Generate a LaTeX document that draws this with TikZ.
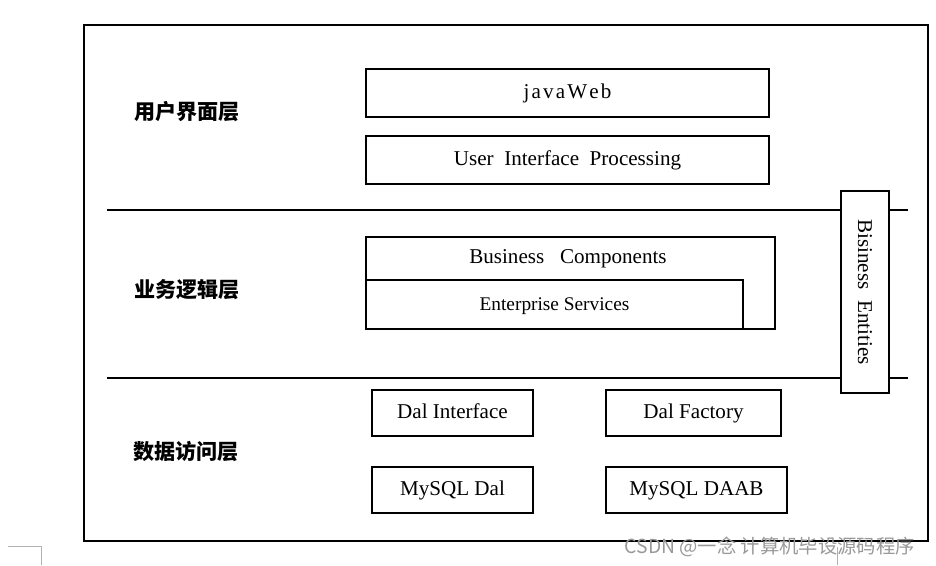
\documentclass[tikz,border=0pt]{standalone}
\usepackage{fontspec}
\setmainfont{Liberation Serif}
\newfontfamily\cjkfont{Noto Sans CJK SC}
\usepackage{tikz}
\usetikzlibrary{positioning,calc}

\begin{document}
\begin{tikzpicture}[x=0.02cm, y=-0.02cm, font=\fontsize{12}{14}\selectfont,
        layerbox/.style={draw, line width=0.8pt, fill=white, inner sep=0pt, minimum height=0.96cm, text height=0.8em, text depth=0.14em},
        layername/.style={font=\cjkfont\bfseries\fontsize{12}{14}\selectfont},
        divider/.style={line width=0.8pt}]
        \useasboundingbox (0,0) rectangle (936,565);

        % frame
        \draw[line width=0.9pt] (84,25) rectangle (928,541);
        \coordinate (ui-l) at (107,210);
        \coordinate (ui-r) at (908,210);
        \coordinate (bl-l) at (107,378);
        \coordinate (bl-r) at (908,378);
        \draw[divider] (ui-l) -- (ui-r);
        \draw[divider] (bl-l) -- (bl-r);

        % layer names
        \node[layername] (uiname) at (187,112) {用户界面层};
        \node[layername] (blname) at (187,290) {业务逻辑层};
        \node[layername] (daname) at (186,452) {数据访问层};

        % user interface layer
        \begin{scope}
            \node[layerbox, minimum width=8.06cm] (web) at (567.5,93) {j\hspace{1.2pt}a\hspace{1.2pt}v\hspace{1.2pt}a\hspace{1.2pt}W\hspace{1.2pt}e\hspace{1.2pt}b};
            \node[layerbox, minimum width=8.06cm] (uip) at (567.5,160) {User\ \ Interface\ \ Processing};
        \end{scope}

        % business logic layer
        \begin{scope}
            \node[layerbox, minimum width=8.18cm, minimum height=1.84cm] (bc) at (570.5,283) {};
            \node (bctext) at (568,259) {Business\ \ \ Components};
            \node[layerbox, minimum width=7.54cm, minimum height=0.98cm, font=\fontsize{11}{13}\selectfont] (es) at (554.5,304.5) {Enterprise Services};
        \end{scope}

        % entities
        \node[layerbox, minimum width=0.96cm, minimum height=4.04cm] (be) at (865,292) {};
        \node[rotate=-90] (betext) at (be.center) {Bisiness\ \ Entities};

        % data access layer
        \begin{scope}
            \node[layerbox, minimum width=3.22cm, minimum height=0.92cm] (dali) at (452.5,413) {Dal Interface};
            \node[layerbox, minimum width=3.5cm, minimum height=0.92cm] (dalf) at (693.5,413) {Dal Factory};
            \node[layerbox, minimum width=3.22cm, minimum height=0.92cm] (mydal) at (452.5,490) {MySQL Dal};
            \node[layerbox, minimum width=3.62cm, minimum height=0.92cm] (daab) at (696.5,490) {MySQL DAAB};
        \end{scope}

        % page marks and watermark
        \draw[gray!60, line width=0.5pt] (8,546) -- (41,546) -- (41,565);
        \draw[gray!60, line width=0.5pt] (837,547) -- (837,565);
        \node[anchor=east, text=gray!80, font=\cjkfont\fontsize{11}{13}\selectfont] (mark) at (921,547) {CSDN @一念 计算机毕设源码程序};
    \end{tikzpicture}
\end{document}
